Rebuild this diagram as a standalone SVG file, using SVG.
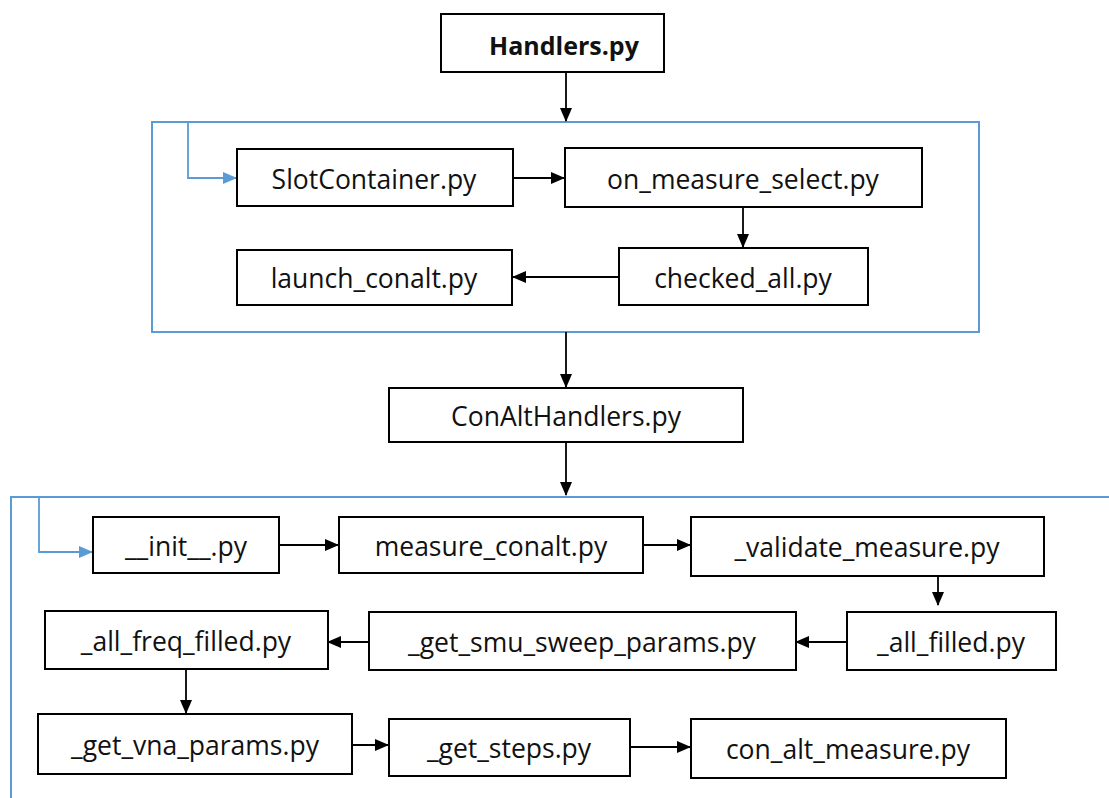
<svg xmlns="http://www.w3.org/2000/svg" width="1109" height="798" viewBox="0 0 1109 798">
<defs>
<style>
.box{fill:#fff;stroke:#000;stroke-width:2}
.t{font-family:"Open Sans","Liberation Sans",sans-serif;font-size:26.5px;fill:#111;text-anchor:middle;dominant-baseline:central}
.b{font-weight:bold;font-size:25px}
.frame{fill:none;stroke:#5b9bd5;stroke-width:2}
.c{fill:none;stroke:#000;stroke-width:1.8}
.cb{fill:none;stroke:#5b9bd5;stroke-width:1.8}
</style>
<marker id="ahb" markerWidth="14" markerHeight="12" refX="13" refY="6" orient="auto" markerUnits="userSpaceOnUse"><path d="M0,0 L14,6 L0,12 z" fill="#5b9bd5"/></marker>
<marker id="ahk" markerWidth="14" markerHeight="12" refX="13" refY="6" orient="auto" markerUnits="userSpaceOnUse"><path d="M0,0 L14,6 L0,12 z" fill="#000"/></marker>
</defs>
<rect width="1109" height="798" fill="#fff"/>
<g id="frames">
<rect class="frame" x="152" y="122" width="827" height="210"/>
<path class="frame" d="M1110,497 H11 V800"/>
</g>
<g id="connectors">
<path class="c" d="M566,72 V121" marker-end="url(#ahk)"/>
<path class="cb" d="M188,122 V178 H236" marker-end="url(#ahb)"/>
<path class="c" d="M513,178 H564" marker-end="url(#ahk)"/>
<path class="c" d="M743,207 V247" marker-end="url(#ahk)"/>
<path class="c" d="M619,277 H513" marker-end="url(#ahk)"/>
<path class="c" d="M566,332 V387" marker-end="url(#ahk)"/>
<path class="c" d="M566,442 V495" marker-end="url(#ahk)"/>
<path class="cb" d="M39,497 V552 H92" marker-end="url(#ahb)"/>
<path class="c" d="M279,545 H338" marker-end="url(#ahk)"/>
<path class="c" d="M643,545 H690" marker-end="url(#ahk)"/>
<path class="c" d="M938,576 V605" marker-end="url(#ahk)"/>
<path class="c" d="M847,642 H796" marker-end="url(#ahk)"/>
<path class="c" d="M369,642 H328" marker-end="url(#ahk)"/>
<path class="c" d="M186,669 V713" marker-end="url(#ahk)"/>
<path class="c" d="M352,745 H388" marker-end="url(#ahk)"/>
<path class="c" d="M630,747 H690" marker-end="url(#ahk)"/>
</g>
<g id="handlers"><rect class="box" x="441" y="14" width="223" height="58"/><text class="t b" x="564" y="45">Handlers.py</text></g>
<g id="slotcontainer"><rect class="box" x="237" y="149" width="276" height="57"/><text class="t" x="374" y="179">SlotContainer.py</text></g>
<g id="on_measure_select"><rect class="box" x="565" y="148" width="357" height="59"/><text class="t" x="743" y="179">on_measure_select.py</text></g>
<g id="checked_all"><rect class="box" x="619" y="248" width="249" height="57"/><text class="t" x="743" y="278">checked_all.py</text></g>
<g id="launch_conalt"><rect class="box" x="237" y="250" width="275" height="55"/><text class="t" x="374" y="278">launch_conalt.py</text></g>
<g id="conalthandlers"><rect class="box" x="389" y="388" width="354" height="54"/><text class="t" x="566" y="416">ConAltHandlers.py</text></g>
<g id="init"><rect class="box" x="93" y="517" width="186" height="56"/><text class="t" x="186" y="546">__init__.py</text></g>
<g id="measure_conalt"><rect class="box" x="339" y="517" width="304" height="56"/><text class="t" x="491" y="546">measure_conalt.py</text></g>
<g id="validate_measure"><rect class="box" x="691" y="517" width="353" height="59"/><text class="t" x="867" y="547">_validate_measure.py</text></g>
<g id="all_filled"><rect class="box" x="847" y="612" width="209" height="58"/><text class="t" x="951" y="642">_all_filled.py</text></g>
<g id="get_smu_sweep_params"><rect class="box" x="369" y="612" width="427" height="58"/><text class="t" x="582" y="642">_get_smu_sweep_params.py</text></g>
<g id="all_freq_filled"><rect class="box" x="45" y="611" width="283" height="58"/><text class="t" x="186" y="641">_all_freq_filled.py</text></g>
<g id="get_vna_params"><rect class="box" x="38" y="714" width="314" height="60"/><text class="t" x="195" y="745">_get_vna_params.py</text></g>
<g id="get_steps"><rect class="box" x="389" y="719" width="241" height="57"/><text class="t" x="509" y="748">_get_steps.py</text></g>
<g id="con_alt_measure"><rect class="box" x="691" y="719" width="315" height="59"/><text class="t" x="848" y="749">con_alt_measure.py</text></g>
</svg>
